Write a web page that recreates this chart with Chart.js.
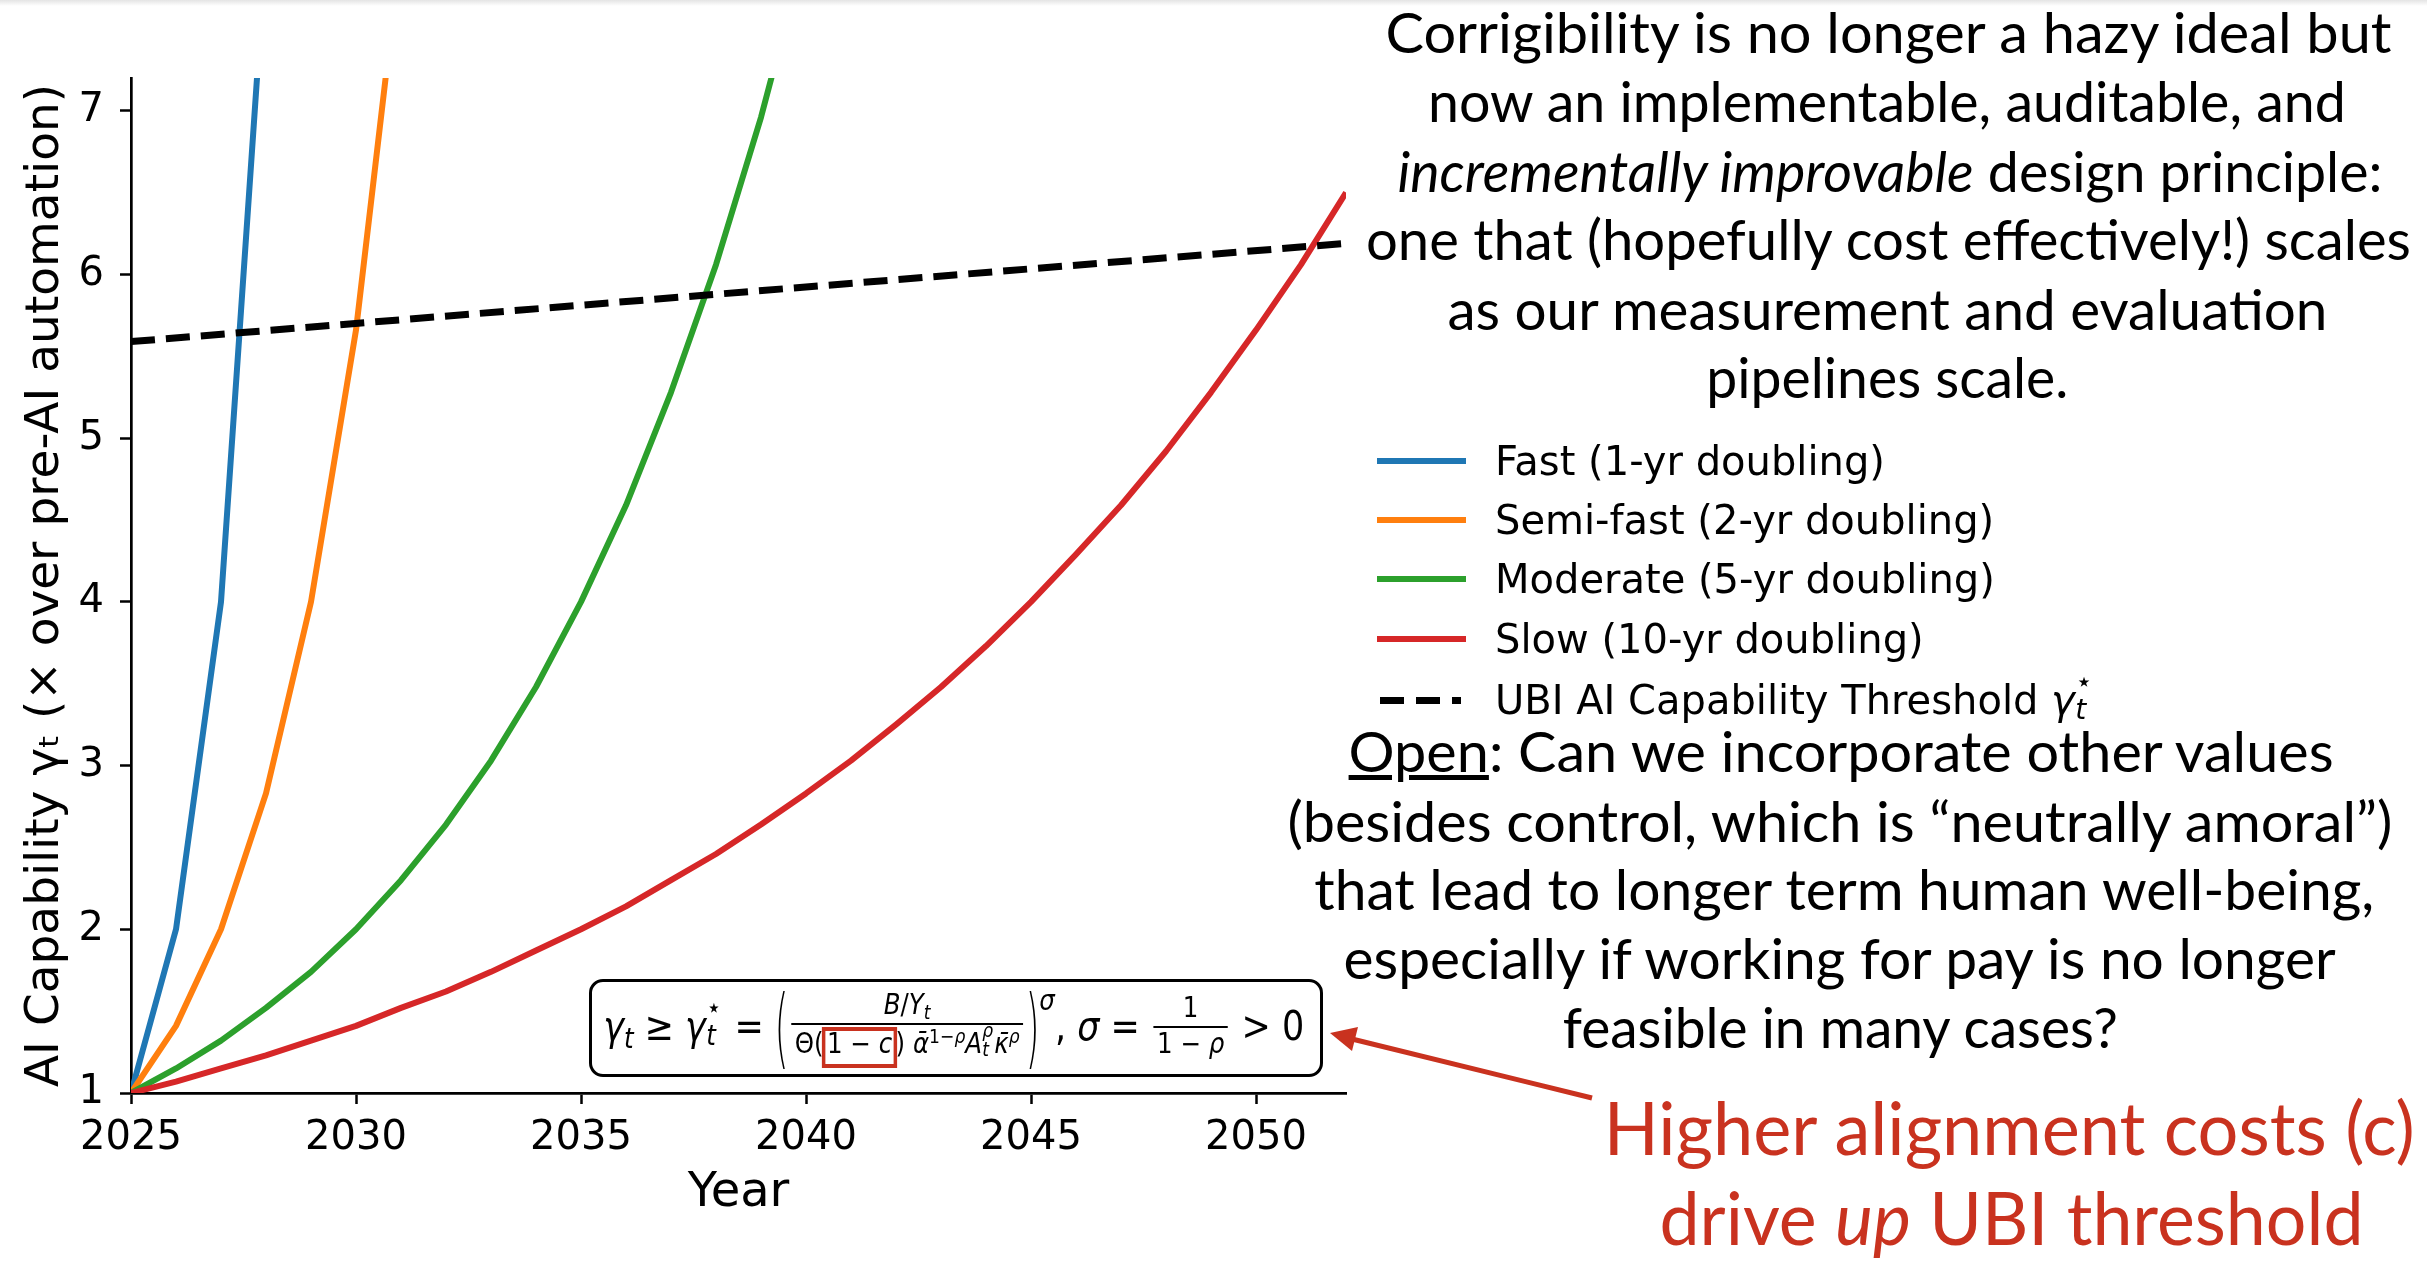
<!DOCTYPE html>
<html>
<head>
<meta charset="utf-8">
<script src="https://cdn.jsdelivr.net/npm/chart.js@4.4.0/dist/chart.umd.min.js"></script>
<style>
  body { margin: 0; width: 2427px; height: 1262px; background: #fff; overflow: hidden; position: relative; font-family: 'DejaVu Sans', sans-serif; }
  #topband { position: absolute; left: 0; top: 0; width: 2427px; height: 6px; background: linear-gradient(#e4e4e4, #fff); }
  #chart { position: absolute; left: 0; top: 0; width: 2427px; height: 1262px; }
  .ln { position: absolute; white-space: nowrap; transform-origin: 50% 0; color: #000; }
  .bl { display: inline-block; width: 0; height: 0; vertical-align: baseline; }
  .slide { font-family: Lato, 'Open Sans', sans-serif; font-size: 56px; line-height: 1.2; }
  .red { color: #c9321f; font-size: 74px; }
  .leg { font-family: 'DejaVu Sans', sans-serif; font-size: 40px; line-height: 1.2; }
  .sw { position: absolute; height: 6px; }
  sub { font-size: 0.7em; vertical-align: -0.28em; line-height: 0; }
  sup { font-size: 0.7em; vertical-align: 0.5em; line-height: 0; }
  .ss { display: inline-block; position: relative; width: 0.5em; height: 1em; vertical-align: baseline; }
  .ss .sp { position: absolute; left: 0.02em; top: -0.2em; font-size: 0.7em; line-height: 1; }
  .ss .sb { position: absolute; left: 0.02em; bottom: -0.35em; font-size: 0.7em; line-height: 1; }
  #fbox { position: absolute; left: 589px; top: 979px; width: 734px; height: 98px; border: 3px solid #000; border-radius: 14px; box-sizing: border-box; }
  .fm { font-family: 'DejaVu Sans', sans-serif; font-size: 40px; line-height: 1.2; }
  .frac { display: inline-block; vertical-align: -13px; text-align: center; font-size: 28px; margin: 0 3px; }
  .frac .num { display: block; line-height: 32px; padding: 0 4px 2px; border-bottom: 2px solid #000; }
  .frac .den { display: block; line-height: 32px; padding: 0 4px; }
  .bigp { display: inline-block; transform: scaleY(2.2); font-weight: 200; }
  .psup { font-size: 28px; vertical-align: 30px; }
  .rb { display: inline-block; line-height: 26px; border: 4.5px solid #c9321f; padding: 0 2px 7px; margin: 0 -2px; }
  #arrow { position: absolute; left: 0; top: 0; width: 2427px; height: 1262px; pointer-events: none; }
</style>
</head>
<body>
<div id="topband"></div>
<canvas id="chart" width="2427" height="1262"></canvas>

<div class="ln slide" data-cx="1888" data-by="53" data-w="1006">Corrigibility is no longer a hazy ideal but</div>
<div class="ln slide" data-cx="1887" data-by="122" data-w="918">now an implementable, auditable, and</div>
<div class="ln slide" data-cx="1890" data-by="192" data-w="985"><i>incrementally improvable</i> design principle:</div>
<div class="ln slide" data-cx="1888" data-by="260" data-w="1045">one that (hopefully cost effectively!) scales</div>
<div class="ln slide" data-cx="1887" data-by="330" data-w="880">as our measurement and evaluation</div>
<div class="ln slide" data-cx="1887" data-by="398" data-w="362">pipelines scale.</div>

<div id="legend"></div>

<div class="ln slide" data-cx="1841" data-by="772" data-w="985"><u>Open</u>: Can we incorporate other values</div>
<div class="ln slide" data-cx="1840" data-by="842" data-w="1105">(besides control, which is “neutrally amoral”)</div>
<div class="ln slide" data-cx="1844" data-by="910" data-w="1060">that lead to longer term human well-being,</div>
<div class="ln slide" data-cx="1840" data-by="979" data-w="992">especially if working for pay is no longer</div>
<div class="ln slide" data-cx="1840" data-by="1048" data-w="555">feasible in many cases?</div>

<div class="ln slide red" data-cx="2009" data-by="1155" data-w="811">Higher alignment costs (c)</div>
<div class="ln slide red" data-cx="2011" data-by="1245" data-w="704">drive <i>up</i> UBI threshold</div>

<div id="fbox"></div>
<div class="ln fm" data-cx="954" data-by="1040" data-w="701"><i>γ</i><sub><i>t</i></sub> ≥ <i>γ</i><span class="ss"><span class="sp">⋆</span><span class="sb"><i>t</i></span></span> = <span class="bigp">(</span><span class="frac"><span class="num"><i>B</i>/<i>Y</i><sub><i>t</i></sub></span><span class="den">Θ(<span class="rb">1 − <i>c</i></span>) <i>ᾱ</i><sup>1−<i>ρ</i></sup><i>A</i><span class="ss"><span class="sp"><i>ρ</i></span><span class="sb"><i>t</i></span></span><i>κ̄</i><sup><i>ρ</i></sup></span></span><span class="bigp">)</span><span class="psup"><i>σ</i></span>, <i>σ</i> = <span class="frac"><span class="num">1</span><span class="den">1 − <i>ρ</i></span></span> &gt; 0</div>

<svg id="arrow" viewBox="0 0 2427 1262">
  <line x1="1592" y1="1098" x2="1352" y2="1039" stroke="#c9321f" stroke-width="5" />
  <polygon points="1330,1033 1358,1027 1352,1051" fill="#c9321f" />
</svg>

<script>
// years on the x axis and capability multiples
const fastYears = [2025, 2026, 2027, 2028];
const fastGamma = [1, 2, 4, 8];
const semiYears = [2025, 2026, 2027, 2028, 2029, 2030, 2031];
const semiGamma = [1, 1.41, 2, 2.83, 4, 5.66, 8];
const moderateYears = [2025, 2026, 2027, 2028, 2029, 2030, 2031, 2032, 2033, 2034, 2035, 2036, 2037, 2038, 2039, 2040];
const moderateGamma = [1, 1.15, 1.32, 1.52, 1.74, 2, 2.3, 2.64, 3.03, 3.48, 4, 4.59, 5.28, 6.06, 6.96, 8];
const slowYears = [2025, 2026, 2027, 2028, 2029, 2030, 2031, 2032, 2033, 2034, 2035, 2036, 2037, 2038,
  2039, 2040, 2041, 2042, 2043, 2044, 2045, 2046, 2047, 2048, 2049, 2050, 2051, 2052];
const slowGamma = [1, 1.07, 1.15, 1.23, 1.32, 1.41, 1.52, 1.62, 1.74, 1.87, 2, 2.14, 2.3, 2.46,
  2.64, 2.83, 3.03, 3.25, 3.48, 3.73, 4, 4.29, 4.59, 4.92, 5.28, 5.66, 6.06, 6.5];
const thresholdYears = [2025, 2052];
const thresholdGamma = [5.59, 6.19];

const seriesLabels = [
  "Fast (1-yr doubling)",
  "Semi-fast (2-yr doubling)",
  "Moderate (5-yr doubling)",
  "Slow (10-yr doubling)",
  "UBI AI Capability Threshold",
];
const seriesColors = ["#1f77b4", "#ff7f0e", "#2ca02c", "#d62728", "#000000"];
const xTickValues = [2025, 2030, 2035, 2040, 2045, 2050];
const yTickValues = [1, 2, 3, 4, 5, 6, 7];

function points(xs, ys) {
  return xs.map((x, i) => ({ x, y: ys[i] }));
}

function lineSet(i, xs, ys, extra) {
  return Object.assign({
    label: seriesLabels[i],
    data: points(xs, ys),
    borderColor: seriesColors[i],
    backgroundColor: seriesColors[i],
    borderWidth: 6,
    pointRadius: 0,
    tension: 0,
    fill: false,
    clip: 0,
    borderJoinStyle: "round",
    order: 5 - i,
  }, extra || {});
}

Chart.defaults.font.family = "'DejaVu Sans', sans-serif";
Chart.defaults.color = "#000";

const axisGrid = { drawOnChartArea: false, drawTicks: true, tickLength: 11, tickWidth: 2.5, tickColor: "#000" };
const axisBorder = { display: true, color: "#000", width: 2.7 };

const chart = new Chart(document.getElementById("chart").getContext("2d"), {
  type: "line",
  data: {
    datasets: [
      lineSet(0, fastYears, fastGamma),
      lineSet(1, semiYears, semiGamma),
      lineSet(2, moderateYears, moderateGamma),
      lineSet(3, slowYears, slowGamma),
      lineSet(4, thresholdYears, thresholdGamma, { borderWidth: 7, borderDash: [24, 11] }),
    ],
  },
  options: {
    responsive: false,
    animation: false,
    devicePixelRatio: 1,
    layout: { padding: { top: 78, right: 1081, left: 0, bottom: 0 } },
    plugins: { legend: { display: false }, tooltip: { enabled: false } },
    scales: {
      x: {
        type: "linear",
        min: 2025,
        max: 2052,
        afterBuildTicks: (axis) => { axis.ticks = xTickValues.map((v) => ({ value: v })); },
        afterFit: (axis) => { axis.height = 169; },
        ticks: { autoSkip: false, maxRotation: 0, padding: 11, font: { size: 40 }, color: "#000", callback: (v) => String(v) },
        grid: axisGrid,
        border: axisBorder,
        title: { display: true, text: "Year", font: { size: 48 }, color: "#000", padding: { top: 0, bottom: 40 } },
      },
      y: {
        type: "linear",
        min: 1,
        max: 7.2,
        afterBuildTicks: (axis) => { axis.ticks = yTickValues.map((v) => ({ value: v })); },
        afterFit: (axis) => { axis.width = 131; },
        ticks: { autoSkip: false, padding: 16, font: { size: 40 }, color: "#000", callback: (v) => String(v) },
        grid: axisGrid,
        border: axisBorder,
        title: { display: true, text: "AI Capability γₜ (× over pre-AI automation)", font: { size: 47 }, color: "#000", padding: { top: 18, bottom: 0 } },
      },
    },
  },
});

// legend drawn as html to the right of the plot
function buildLegend() {
  const legend = document.getElementById("legend");
  const rowCenters = [461, 520, 579, 639, 700];
  chart.data.datasets.forEach((ds, i) => {
    const sw = document.createElement("div");
    sw.className = "sw";
    const cy = rowCenters[i];
    if (ds.borderDash) {
      sw.style.left = "1380px";
      sw.style.width = "81px";
      sw.style.height = "7px";
      sw.style.top = (cy - 3.5) + "px";
      sw.style.background = "repeating-linear-gradient(to right, #000 0 24px, transparent 24px 36px)";
    } else {
      sw.style.left = "1377px";
      sw.style.width = "89px";
      sw.style.top = (cy - 3) + "px";
      sw.style.background = ds.borderColor;
    }
    legend.appendChild(sw);

    const txt = document.createElement("div");
    txt.className = "ln leg";
    txt.dataset.x = 1495;
    txt.dataset.by = cy + 14;
    txt.textContent = ds.label;
    if (ds.borderDash) {
      txt.insertAdjacentHTML("beforeend", ' <i>γ</i><span class="ss"><span class="sp">⋆</span><span class="sb"><i>t</i></span></span>');
    }
    legend.appendChild(txt);
  });
}

function placeLines() {
  document.querySelectorAll(".ln").forEach((el) => {
    const mark = document.createElement("span");
    mark.className = "bl";
    el.appendChild(mark);
    el.style.left = "0px";
    el.style.top = "0px";
    const box = el.getBoundingClientRect();
    const base = mark.getBoundingClientRect().top - box.top;
    el.style.top = (parseFloat(el.dataset.by) - base) + "px";
    if (el.dataset.w) {
      const k = parseFloat(el.dataset.w) / box.width;
      el.style.left = (parseFloat(el.dataset.cx) - box.width / 2) + "px";
      el.style.transform = "scaleX(" + k.toFixed(4) + ")";
    } else {
      el.style.left = el.dataset.x + "px";
    }
  });
}

buildLegend();
placeLines();
</script>
</body>
</html>
